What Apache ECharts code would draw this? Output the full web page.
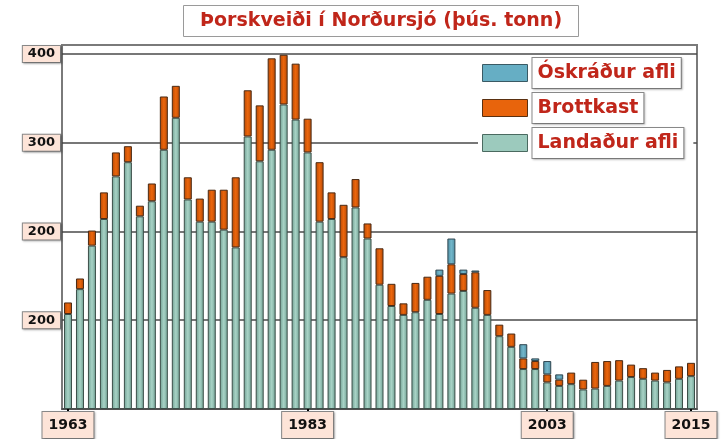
<!DOCTYPE html>
<html>
<head>
<meta charset="utf-8">
<script src="https://cdn.jsdelivr.net/npm/echarts@6/dist/echarts.min.js"></script>
<style>
  html, body { margin: 0; padding: 0; background: #fff; }
  #chart { width: 726px; height: 439px; }
</style>
</head>
<body>
<div id="chart"></div>
<script>
const years = Array.from({ length: 53 }, (_, i) => String(1963 + i));
const xTickLabels = ["1963", "1983", "2003", "2015"];
const yTickValues = [100, 200, 300, 400];
const yTickLabels = ["200", "200", "300", "400"];

// þús. tonn
const landed = [
  107, 135, 184, 214, 262, 278, 217, 234, 292, 328,
  236, 211, 211, 202, 182, 307, 279, 292, 343, 326,
  289, 211, 214, 171, 227, 192, 140, 116, 106, 109,
  123, 107, 130, 133, 114, 106, 82, 70, 45, 45,
  30, 26, 28, 22, 23, 26, 32, 36, 34, 32,
  30, 34, 37
];
const discards = [
  13, 12, 17, 30, 27, 18, 12, 20, 60, 36,
  25, 26, 36, 45, 79, 52, 63, 103, 56, 63,
  38, 67, 30, 59, 32, 17, 41, 25, 13, 33,
  26, 43, 33, 19, 40, 28, 13, 15, 12, 9,
  9, 7, 13, 11, 30, 28, 23, 14, 12, 9,
  14, 14, 15
];
const unreported = [
  0, 0, 0, 0, 0, 0, 0, 0, 0, 0,
  0, 0, 0, 0, 0, 0, 0, 0, 0, 0,
  0, 0, 0, 0, 0, 0, 0, 0, 0, 0,
  0, 7, 29, 5, 2, 0, 0, 0, 16, 3,
  15, 6, 0, 0, 0, 0, 0, 0, 0, 0,
  0, 0, 0
];

const chart = echarts.init(document.getElementById("chart"));

function barGradient(edge, mid) {
  return new echarts.graphic.LinearGradient(0, 0, 1, 0, [
    { offset: 0, color: edge },
    { offset: 0.5, color: mid },
    { offset: 1, color: edge },
  ]);
}

const FONT = "DejaVu Sans";

const boxLabel = {
  color: "#111",
  fontFamily: FONT,
  fontWeight: "bold",
  backgroundColor: "#fde4d8",
  borderColor: "#8a8a8a",
  borderWidth: 1,
  shadowColor: "rgba(0,0,0,0.25)",
  shadowBlur: 2,
  shadowOffsetX: 1,
  shadowOffsetY: 1,
};

const showYear = (idx, val) => xTickLabels.indexOf(val) !== -1;

const option = {
  animation: false,
  backgroundColor: "#fff",
  title: {
    text: "Þorskveiði í Norðursjó (þús. tonn)",
    left: 183,
    top: 5,
    padding: [7, 17, 6, 17],
    backgroundColor: "#fff",
    borderColor: "#9a9a9a",
    borderWidth: 1,
    textStyle: {
      color: "#c0261a",
      fontFamily: FONT,
      fontWeight: "bold",
      fontSize: 19,
    },
  },
  legend: {
    orient: "vertical",
    left: 478,
    top: 57,
    padding: [0, 9, 2, 4],
    backgroundColor: "#fff",
    icon: "rect",
    itemWidth: 45,
    itemHeight: 17,
    itemGap: 3,
    data: [
      { name: "Óskráður afli", itemStyle: { color: "#66aec4", borderColor: "#3a5a64", borderWidth: 1 } },
      { name: "Brottkast", itemStyle: { color: "#e8640c", borderColor: "#5a3010", borderWidth: 1 } },
      { name: "Landaður afli", itemStyle: { color: "#9ccabd", borderColor: "#4a6a60", borderWidth: 1 } },
    ],
    textStyle: {
      color: "#c0261a",
      fontFamily: FONT,
      fontWeight: "bold",
      fontSize: 19,
      backgroundColor: "#fff",
      borderColor: "#8a8a8a",
      borderWidth: 1,
      padding: [6, 5, 5, 5],
      shadowColor: "rgba(0,0,0,0.2)",
      shadowBlur: 2,
      shadowOffsetX: 1,
      shadowOffsetY: 1,
    },
  },
  grid: {
    left: 62,
    right: 29,
    top: 45,
    bottom: 29,
    show: true,
    borderColor: "#7a7a7a",
    borderWidth: 2,
  },
  xAxis: {
    type: "category",
    data: years,
    axisLine: { lineStyle: { color: "#444", width: 1.5 } },
    axisTick: {
      show: true,
      alignWithLabel: true,
      interval: showYear,
      length: 3,
      lineStyle: { color: "#000", width: 2 },
    },
    axisLabel: Object.assign({}, boxLabel, {
      interval: showYear,
      fontSize: 14,
      margin: 3,
      padding: [6, 6, 6, 6],
    }),
  },
  yAxis: {
    type: "value",
    min: 0,
    max: 410,
    interval: 100,
    axisLine: { show: false },
    axisTick: { show: false, customValues: yTickValues },
    splitLine: { lineStyle: { color: "#4a4a4a", width: 1.5 } },
    axisLabel: Object.assign({}, boxLabel, {
      customValues: yTickValues,
      formatter: (v) => yTickLabels[yTickValues.indexOf(v)] || "",
      fontSize: 13,
      margin: 2,
      padding: [2, 5, 1, 5],
    }),
  },
  series: [
    {
      name: "Landaður afli",
      type: "bar",
      stack: "afli",
      barWidth: 8,
      data: landed,
      itemStyle: {
        color: barGradient("#6f9f92", "#a8d3c6"),
        borderColor: "#3c4f49",
        borderWidth: 1,
      },
    },
    {
      name: "Brottkast",
      type: "bar",
      stack: "afli",
      barWidth: 8,
      data: discards,
      itemStyle: {
        color: barGradient("#b34806", "#ec660c"),
        borderColor: "#4a2a14",
        borderWidth: 1,
      },
    },
    {
      name: "Óskráður afli",
      type: "bar",
      stack: "afli",
      barWidth: 8,
      data: unreported.map((v) => (v ? v : null)),
      itemStyle: {
        color: barGradient("#4f8ea2", "#72b6ca"),
        borderColor: "#2f4650",
        borderWidth: 1,
      },
    },
  ],
};

chart.setOption(option);
</script>
</body>
</html>
